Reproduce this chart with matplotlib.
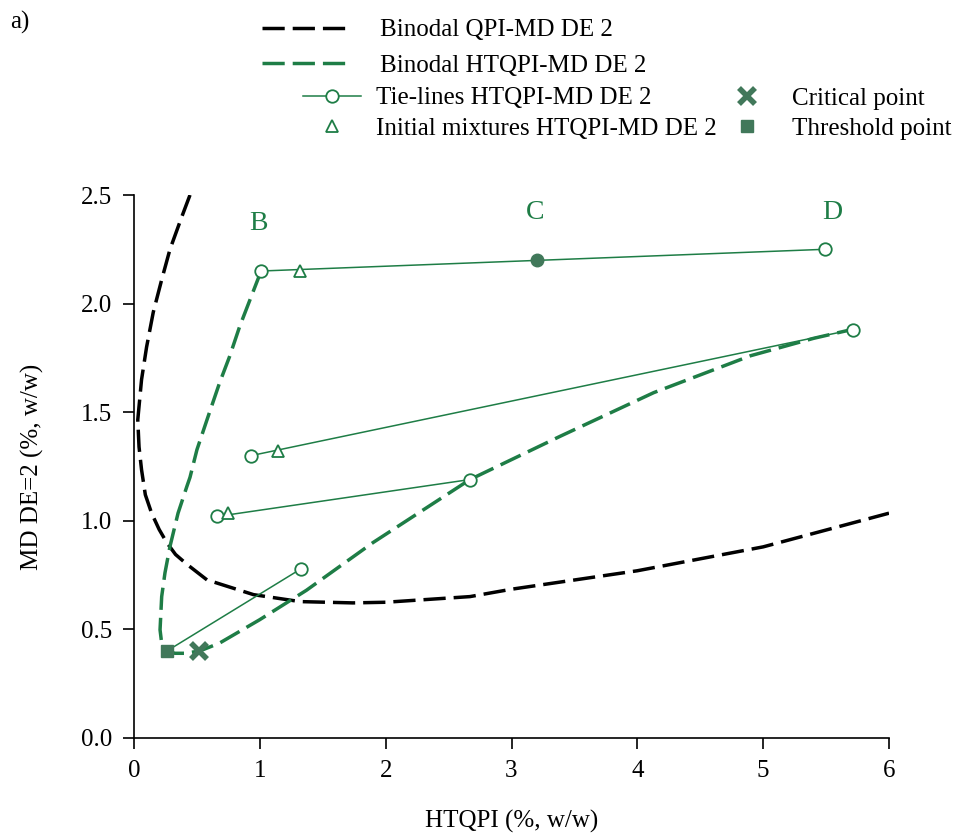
import matplotlib
matplotlib.use("Agg")
import matplotlib.pyplot as plt
from matplotlib.lines import Line2D

plt.rcParams['font.family'] = ['Liberation Serif', 'DejaVu Serif']

GREEN = '#1e7d46'
DARK = '#41785a'
DASH = (6.4, 2.3)

# binodal curves
qpi_x = [0.445, 0.38, 0.286, 0.22, 0.153, 0.10, 0.06, 0.03, 0.04, 0.06, 0.09, 0.14,
         0.20, 0.26, 0.33, 0.42, 0.58, 0.95, 1.32, 1.74, 2.0, 2.67, 3.0, 4.0, 5.0, 6.0]
qpi_y = [2.50, 2.40, 2.25, 2.11, 1.96, 1.80, 1.65, 1.465, 1.34, 1.235, 1.12, 1.035,
         0.96, 0.90, 0.845, 0.80, 0.728, 0.66, 0.628, 0.622, 0.625, 0.651, 0.685,
         0.77, 0.88, 1.035]

htqpi_x = [1.01, 0.95, 0.84, 0.76, 0.68, 0.58, 0.50, 0.445, 0.42, 0.35, 0.286, 0.246,
           0.22, 0.207, 0.22, 0.26, 0.326, 0.40, 0.52, 0.68, 1.0, 1.37, 1.9, 2.67,
           3.39, 4.13, 4.9, 5.4, 5.7]
htqpi_y = [2.15, 2.06, 1.895, 1.757, 1.635, 1.465, 1.327, 1.20, 1.158, 1.035, 0.882,
           0.76, 0.651, 0.498, 0.436, 0.40, 0.39, 0.39, 0.40, 0.437, 0.545, 0.68,
           0.90, 1.19, 1.39, 1.59, 1.76, 1.84, 1.88]

# tie-lines: (x_start, x_end), (y_start, y_end)
tie_x = [(1.01, 5.49), (0.93, 5.71), (0.66, 2.67), (0.26, 1.33)]
tie_y = [(2.15, 2.25), (1.30, 1.88), (1.02, 1.19), (0.40, 0.78)]
# which tie-line ends get an open circle
tie_open_start = [True, True, True, False]

init_x = [1.32, 1.145, 0.75]
init_y = [2.15, 1.32, 1.035]

c_x, c_y = 3.2, 2.20
crit_x, crit_y = 0.52, 0.40
thr_x, thr_y = 0.26, 0.40

letters = ['B', 'C', 'D']
letter_x = [0.99, 3.19, 5.55]
letter_y = [2.37, 2.42, 2.42]

fig = plt.figure(figsize=(9.56, 8.34), dpi=100)
ax = fig.add_axes([134 / 956, 1 - 738 / 834, 755 / 956, 543 / 834])

ax.plot(qpi_x, qpi_y, color='black', lw=2.5, dashes=DASH, zorder=2)
ax.plot(htqpi_x, htqpi_y, color=GREEN, lw=2.5, dashes=DASH, zorder=2)

for xs, ys, op in zip(tie_x, tie_y, tie_open_start):
    ax.plot(xs, ys, color=GREEN, lw=1.1, zorder=3)
    if op:
        ax.plot(xs, ys, 'o', ms=9, mfc='white', mec=GREEN, mew=1.3, zorder=4)
    else:
        ax.plot(xs[1], ys[1], 'o', ms=9, mfc='white', mec=GREEN, mew=1.3, zorder=4)

ax.plot(init_x, init_y, '^', ms=9, mfc='white', mec=GREEN, mew=1.3, ls='none', zorder=5)
ax.plot(c_x, c_y, 'o', ms=9, color=DARK, zorder=5)
ax.plot(crit_x, crit_y, 'x', ms=12, mew=4, color=DARK, zorder=5)
ax.plot(thr_x, thr_y, 's', ms=8, color=DARK, zorder=5)

for t, lx, ly in zip(letters, letter_x, letter_y):
    ax.text(lx, ly, t, color=GREEN, fontsize=20, ha='center', va='center')

ax.set_xlim(0, 6)
ax.set_ylim(0, 2.5)
ax.set_xticks(range(7))
ax.set_yticks([0.0, 0.5, 1.0, 1.5, 2.0, 2.5])
ax.set_yticklabels(['0.0', '0.5', '1.0', '1.5', '2.0', '2.5'])
ax.tick_params(labelsize=18, length=8, width=1.2, direction='out', pad=8)
for s in ['top', 'right']:
    ax.spines[s].set_visible(False)
for s in ['left', 'bottom']:
    ax.spines[s].set_linewidth(1.2)

ax.set_xlabel('HTQPI (%, w/w)', fontsize=18, labelpad=20)
ax.set_ylabel('MD DE=2 (%, w/w)', fontsize=18, labelpad=26)

fig.text(10 / 956, 1 - 22 / 834, 'a)', fontsize=18, va='center')

# legends
h1 = [Line2D([], [], color='black', lw=2.5, dashes=DASH),
      Line2D([], [], color=GREEN, lw=2.5, dashes=DASH)]
fig.legend(h1, ['Binodal QPI-MD DE 2', 'Binodal HTQPI-MD DE 2'],
           loc='upper left', bbox_to_anchor=(262 / 956, 1 - 19 / 834),
           frameon=False, fontsize=18, handlelength=3.45, handletextpad=1.28,
           labelspacing=0.52, borderpad=0, borderaxespad=0)
h2 = [Line2D([], [], color=GREEN, lw=1.1, marker='o', ms=9, mfc='white', mec=GREEN, mew=1.3),
      Line2D([], [], ls='none', marker='^', ms=9, mfc='white', mec=GREEN, mew=1.3)]
fig.legend(h2, ['Tie-lines HTQPI-MD DE 2', 'Initial mixtures HTQPI-MD DE 2'],
           loc='upper left', bbox_to_anchor=(303 / 956, 1 - 87 / 834),
           frameon=False, fontsize=18, handlelength=2.3, handletextpad=0.6,
           labelspacing=0.32, borderpad=0, borderaxespad=0)
h3 = [Line2D([], [], ls='none', marker='x', ms=12, mew=4, color=DARK),
      Line2D([], [], ls='none', marker='s', ms=8, color=DARK)]
fig.legend(h3, ['Critical point', 'Threshold point'],
           loc='upper left', bbox_to_anchor=(722 / 956, 1 - 87 / 834),
           frameon=False, fontsize=18, handlelength=2.0, handletextpad=0.8,
           labelspacing=0.32, borderpad=0, borderaxespad=0)

fig.savefig('out.png', dpi=100)
